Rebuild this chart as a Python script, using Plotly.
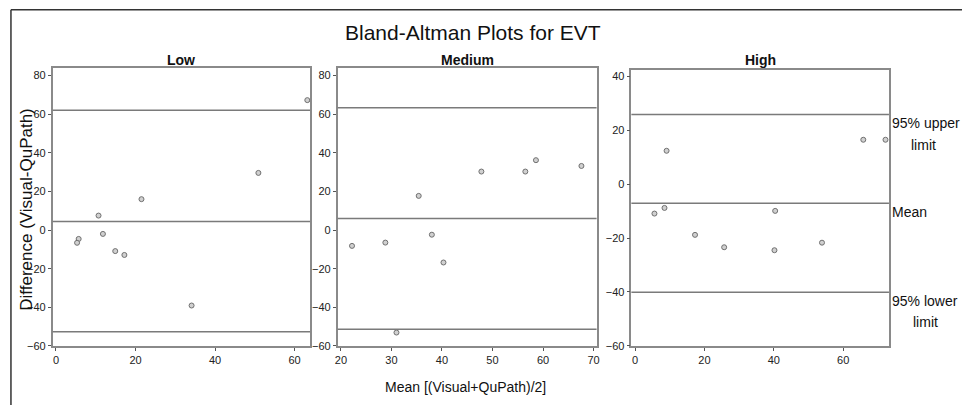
import plotly.graph_objects as go

W, H = 965, 411

# ---- data ----
panels = ["Low", "Medium", "High"]

low_mean = [63.2, 50.9, 21.5, 10.7, 11.8, 5.7, 5.3, 14.9, 17.2, 34.1]
low_diff = [67.3, 29.6, 16.0, 7.5, -2.0, -4.6, -6.6, -10.9, -12.9, -39.1]

med_mean = [22.2, 28.8, 31.0, 35.4, 38.0, 40.3, 47.8, 56.5, 58.6, 67.6]
med_diff = [-8.2, -6.5, -53.1, 17.7, -2.4, -16.8, 30.3, 30.3, 36.2, 33.2]

high_mean = [5.6, 8.5, 9.1, 17.3, 25.7, 40.4, 40.2, 53.9, 65.8, 72.2]
high_diff = [-10.9, -8.8, 12.4, -18.8, -23.4, -9.9, -24.5, -21.7, 16.5, 16.5]

# [upper 95% limit, mean, lower 95% limit]
low_limits = [62.1, 4.4, -52.7]
med_limits = [63.4, 6.0, -51.4]
high_limits = [25.9, -7.1, -40.1]

low_xticks = [0, 20, 40, 60]
med_xticks = [20, 30, 40, 50, 60, 70]
high_xticks = [0, 20, 40, 60]
low_yticks = [80, 60, 40, 20, 0, -20, -40, -60]
med_yticks = [80, 60, 40, 20, 0, -20, -40, -60]
high_yticks = [40, 20, 0, -20, -40, -60]

limit_labels = [["95% upper", "limit"], ["Mean"], ["95% lower", "limit"]]

# ---- layout helpers ----
def px(x):
    return x / W

def py(y):
    return 1 - y / H

boxes = [  # left, right, top, bottom in pixels
    (50, 309, 69.3, 351),
    (336.7, 597.3, 69.3, 351),
    (632.3, 891.5, 71, 351),
]
xranges = [[-0.83, 63.9], [19.35, 70.6], [-1.05, 73.2]]
yranges = [[-60, 83.8], [-60, 83.8], [-60, 42.4]]

means = [low_mean, med_mean, high_mean]
diffs = [low_diff, med_diff, high_diff]
limits = [low_limits, med_limits, high_limits]
xticks = [low_xticks, med_xticks, high_xticks]
yticks = [low_yticks, med_yticks, high_yticks]

fig = go.Figure()
tickfont = dict(family="Liberation Sans, Arial", size=11, color="#222")

shapes = []
annotations = []
for i in range(3):
    sfx = "" if i == 0 else str(i + 1)
    xa, ya = "x" + sfx, "y" + sfx
    fig.add_trace(go.Scatter(
        x=means[i], y=diffs[i], mode="markers", xaxis=xa, yaxis=ya,
        marker=dict(symbol="circle", size=5, color="#d0d0d0",
                    line=dict(color="#707070", width=1)),
        showlegend=False, hoverinfo="x+y"))
    l, r, t, b = boxes[i]
    axis_common = dict(showgrid=False, zeroline=False, showline=True, mirror=True,
                       linecolor="#8a8a8a", linewidth=1.5, ticks="outside",
                       ticklen=3, tickcolor="#555", tickfont=tickfont)
    fig.layout["xaxis" + sfx] = dict(domain=[px(l), px(r)], range=xranges[i],
                                     anchor=ya, tickvals=xticks[i], **axis_common)
    fig.layout["yaxis" + sfx] = dict(domain=[py(b), py(t)], range=yranges[i],
                                     anchor=xa, tickvals=yticks[i], **axis_common)
    for v in limits[i]:
        shapes.append(dict(type="line", xref=xa + " domain", yref=ya,
                           x0=0, x1=1, y0=v, y1=v,
                           line=dict(color="#7a7a7a", width=1.5)))
    annotations.append(dict(text="<b>" + panels[i] + "</b>", xref="paper", yref="paper",
                            x=px((l + r) / 2), y=py(61), showarrow=False,
                            xanchor="center", yanchor="middle",
                            font=dict(family="Liberation Sans, Arial", size=14, color="#111")))

# labels to the right of the High panel
label_pos = [[(929, 125), (926, 147)], [(912, 215)], [(928, 305), (928, 327)]]
for lines, poss in zip(limit_labels, label_pos):
    for txt, (x, y) in zip(lines, poss):
        annotations.append(dict(text=txt, xref="paper", yref="paper", x=px(x), y=py(y),
                                showarrow=False, xanchor="center", yanchor="middle",
                                font=dict(family="Liberation Sans, Arial", size=14, color="#111")))

annotations.append(dict(text="Bland-Altman Plots for EVT", xref="paper", yref="paper",
                        x=px(473), y=py(33), showarrow=False, xanchor="center",
                        yanchor="middle",
                        font=dict(family="Liberation Sans, Arial", size=21, color="#111")))
annotations.append(dict(text="Mean [(Visual+QuPath)/2]", xref="paper", yref="paper",
                        x=px(465), y=py(393), showarrow=False, xanchor="center",
                        yanchor="middle",
                        font=dict(family="Liberation Sans, Arial", size=14, color="#111")))
annotations.append(dict(text="Difference (Visual-QuPath)", xref="paper", yref="paper",
                        x=px(24), y=py(212), showarrow=False, xanchor="center",
                        yanchor="middle", textangle=-90,
                        font=dict(family="Liberation Sans, Arial", size=17, color="#111")))

# outer frame (top and left edges)
shapes.append(dict(type="line", xref="paper", yref="paper", x0=px(8), x1=1.0,
                   y0=py(10), y1=py(10), line=dict(color="#333", width=1.5)))
shapes.append(dict(type="line", xref="paper", yref="paper", x0=px(8), x1=px(8),
                   y0=py(10), y1=0, line=dict(color="#333", width=1.5)))

fig.update_layout(width=W, height=H, margin=dict(l=0, r=0, t=0, b=0),
                  paper_bgcolor="white", plot_bgcolor="white",
                  shapes=shapes, annotations=annotations, showlegend=False)

fig.write_html("out.html", config={"displayModeBar": False},
               post_script="document.body.style.margin='0';document.body.style.overflow='hidden';")
